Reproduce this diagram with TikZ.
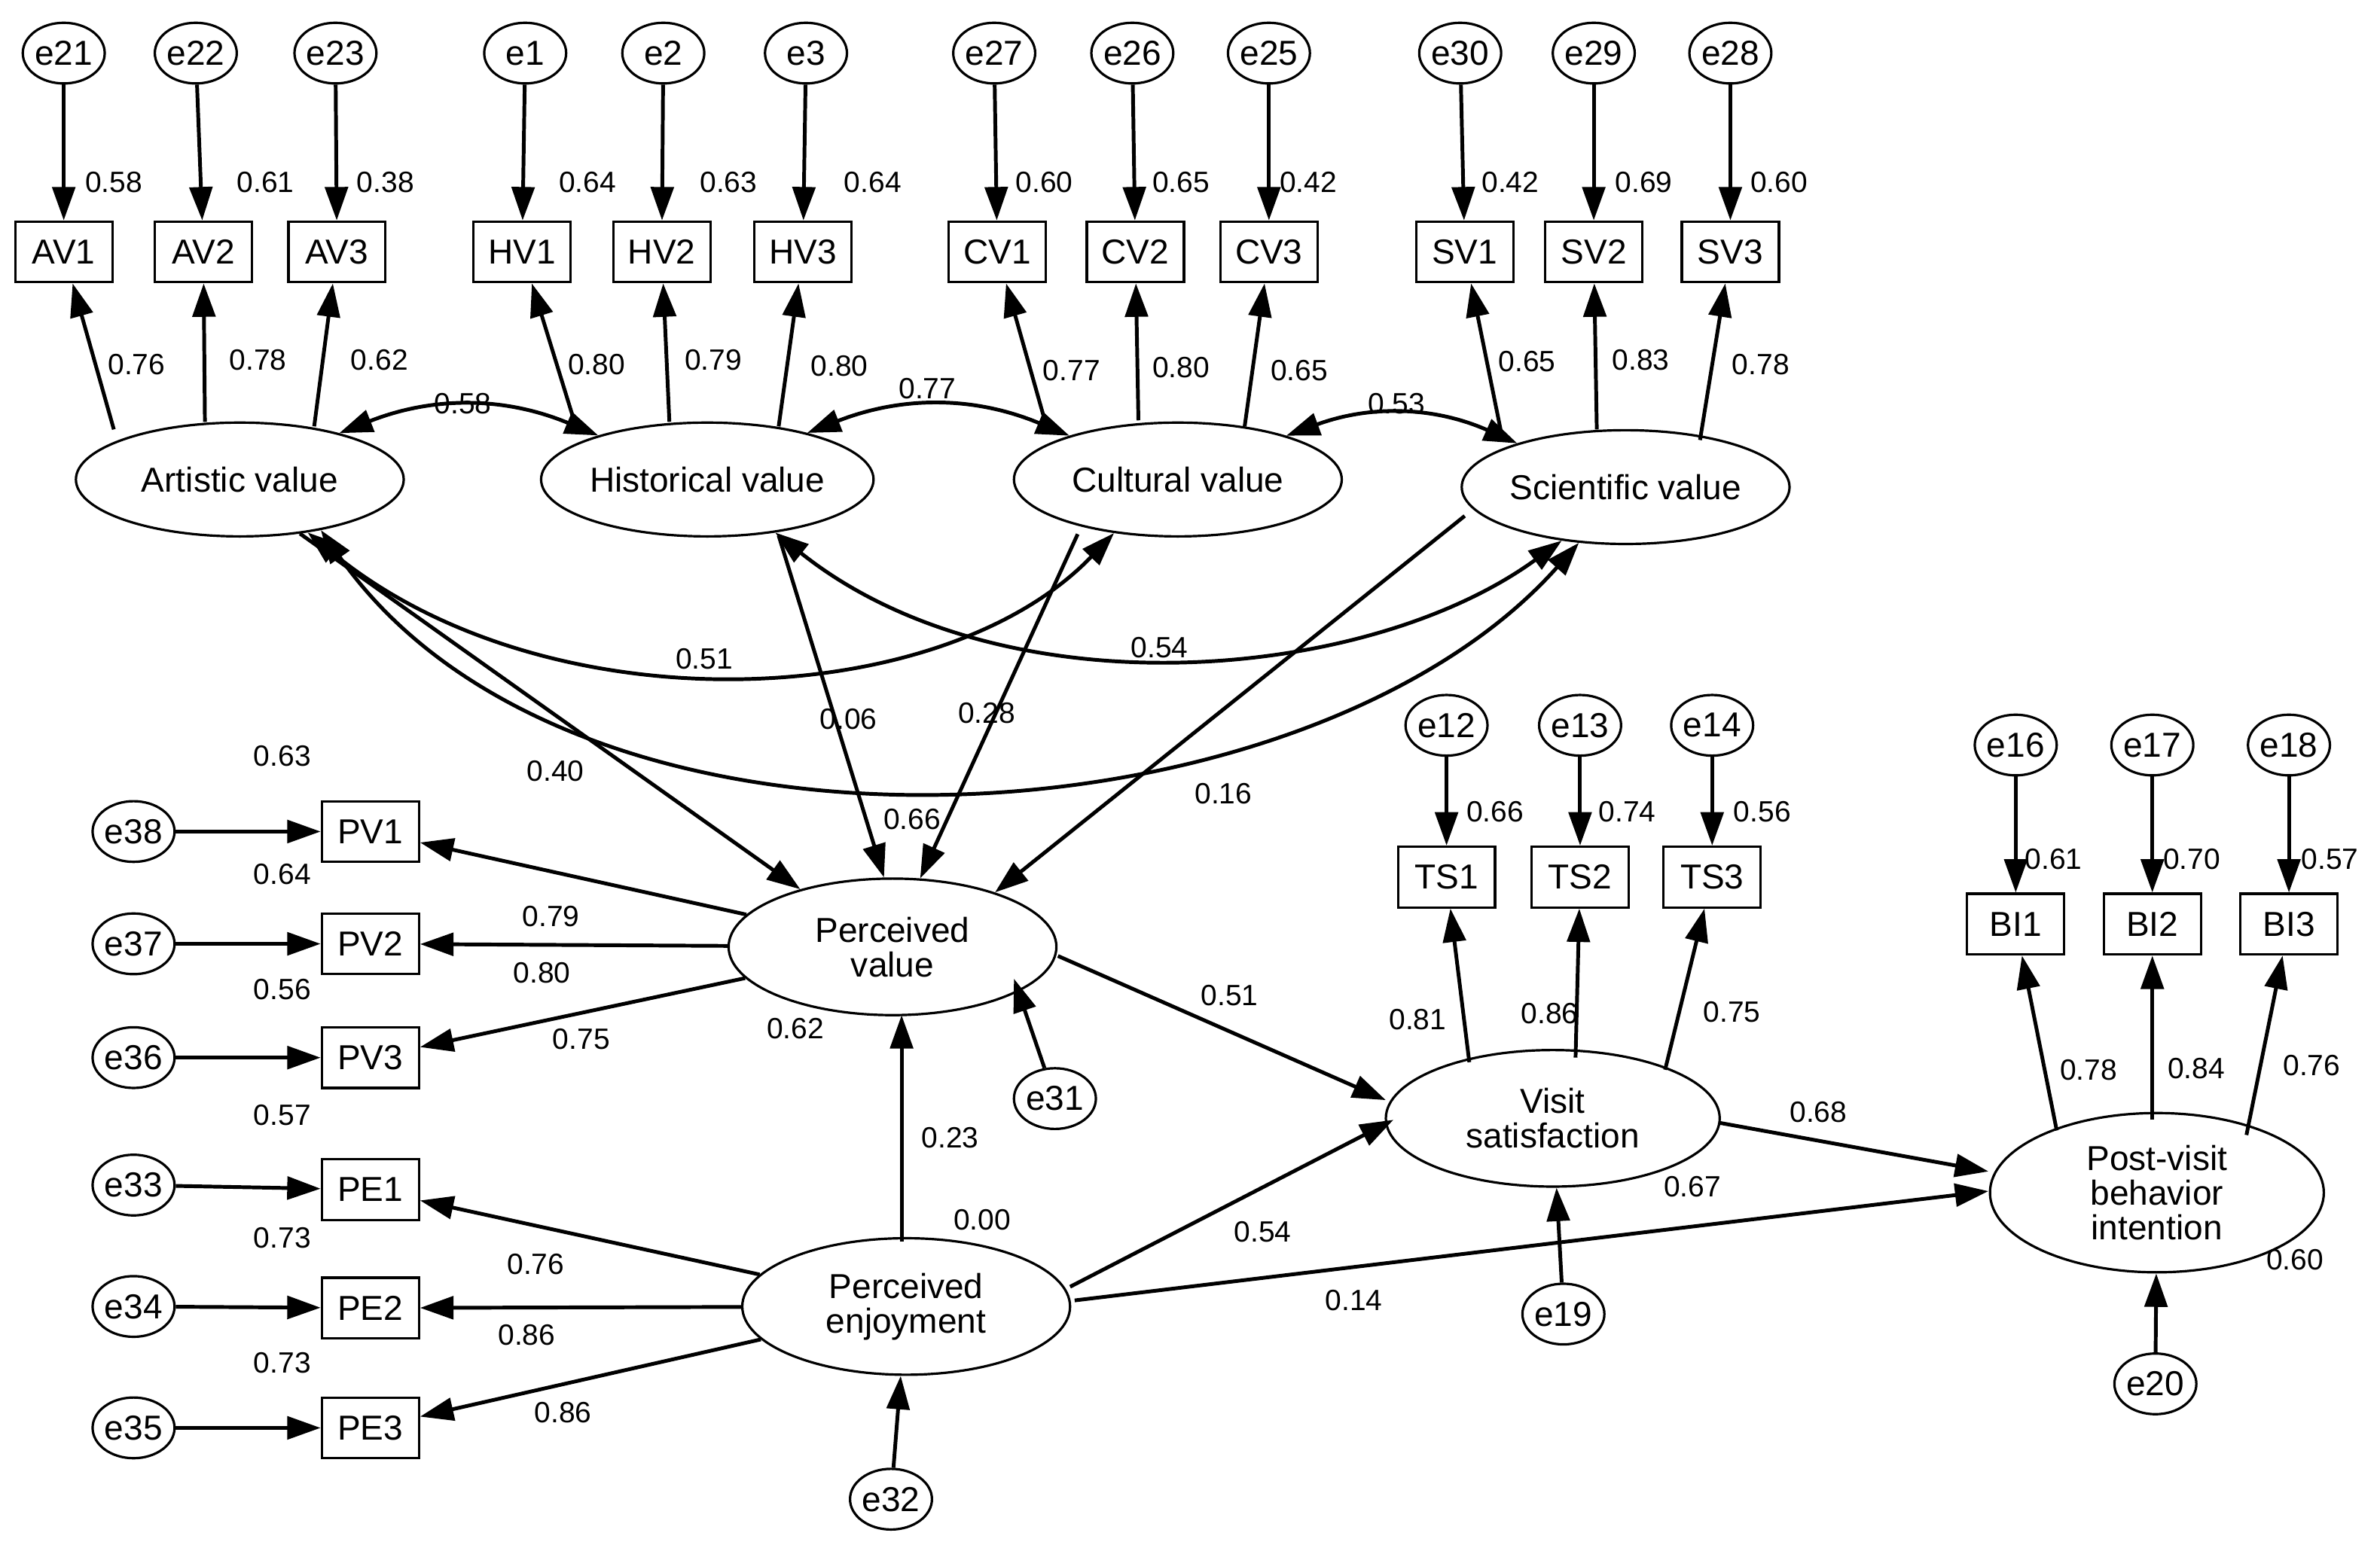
\documentclass[tikz,border=0pt]{standalone}
\usepackage{fontspec}
\setmainfont{Liberation Sans}
\usetikzlibrary{arrows.meta,shapes.geometric}
\begin{document}
\begin{tikzpicture}[x=0.02cm,y=-0.02cm,
 err/.style={draw,ellipse,minimum width=1.08cm,minimum height=0.8cm,inner sep=0pt,font=\fontsize{13}{14}\selectfont,line width=0.9pt},
 box/.style={draw,rectangle,minimum width=1.28cm,minimum height=0.8cm,inner sep=0pt,font=\fontsize{13}{14}\selectfont,line width=0.9pt},
 lat/.style={draw,ellipse,minimum width=4.32cm,minimum height=1.5cm,inner sep=0pt,align=center,font=\fontsize{13}{13}\selectfont,line width=0.9pt},
 lb/.style={font=\fontsize{11}{12}\selectfont,inner sep=1pt},
 ar/.style={-{Triangle[length=0.44cm,width=0.3cm]},line width=1.4pt},
 dar/.style={{Triangle[length=0.44cm,width=0.3cm]}-{Triangle[length=0.44cm,width=0.3cm]},line width=1.4pt}]
\useasboundingbox (0,0) rectangle (1568,1018);
% top errors and boxes
\foreach \n/\ex in {e21/42,e22/129,e23/221,e1/346,e2/437,e3/531,e27/655,e26/746,e25/836,e30/962,e29/1050,e28/1140}{
 \node[err] (\n) at (\ex,35) {\n};}
\foreach \b/\bx in {AV1/42,AV2/134,AV3/222,HV1/344,HV2/436,HV3/529,CV1/657,CV2/748,CV3/836,SV1/965,SV2/1050,SV3/1140}{
 \node[box] (\b) at (\bx,166) {\b};}
\foreach \e/\b in {e21/AV1,e22/AV2,e23/AV3,e1/HV1,e2/HV2,e3/HV3,e27/CV1,e26/CV2,e25/CV3,e30/SV1,e29/SV2,e28/SV3}{
 \draw[ar] (\e) -- (\b);}
\node[lat] (art) at (158,316) {Artistic value};
\node[lat] (hist) at (466,316) {Historical value};
\node[lat] (cult) at (776,316) {Cultural value};
\node[lat] (sci) at (1071,321) {Scientific value};
\foreach \c/\x/\y in {a1/75/283,a2/135/278,a3/207/281,h1/380/283,h2/441/278,h3/513/281,c1/690/283,c2/750/277,c3/820/281,s1/990/290,s2/1052/283,s3/1120/290}{
 \coordinate (\c) at (\x,\y);}
\draw[ar] (a1) -- (AV1); \draw[ar] (a2) -- (AV2); \draw[ar] (a3) -- (AV3);
\draw[ar] (h1) -- (HV1); \draw[ar] (h2) -- (HV2); \draw[ar] (h3) -- (HV3);
\draw[ar] (c1) -- (CV1); \draw[ar] (c2) -- (CV2); \draw[ar] (c3) -- (CV3);
\draw[ar] (s1) -- (SV1); \draw[ar] (s2) -- (SV2); \draw[ar] (s3) -- (SV3);
% covariances
\draw[dar] (art.25) to[bend left=22] (hist.158);
\draw[dar] (hist.25) to[bend left=22] (cult.158);
\draw[dar] (cult.22) to[bend left=22] (sci.158);
\draw[dar] (art.-38) .. controls (360,480) and (620,470) .. (cult.-140);
\draw[dar] (hist.-38) .. controls (660,470) and (900,450) .. (sci.-140);
\draw[dar] (art.-32) .. controls (380,590) and (860,560) .. (sci.-130);
% lower nodes
\node[lat,minimum height=1.8cm] (pv) at (588,624) {Perceived\\value};
\node[lat,minimum height=1.8cm] (pe) at (597,861) {Perceived\\enjoyment};
\node[lat,minimum width=4.4cm,minimum height=1.8cm] (vs) at (1023,737) {Visit\\satisfaction};
\node[lat,minimum width=4.4cm,minimum height=2.1cm] (bi) at (1421,786) {Post-visit\\behavior\\intention};
\coordinate (hs) at (513,353); \coordinate (cs) at (710,352); \coordinate (ss) at (965,340);
\draw[ar] (art.-42) -- (pv.148);
\draw[ar] (hs) -- (pv.97);
\draw[ar] (cs) -- (pv.68);
\draw[ar] (ss) -- (pv.28);
\foreach \b/\y in {PV1/548,PV2/622,PV3/697,PE1/784,PE2/862,PE3/941}{\node[box] (\b) at (244,\y) {\b};}
\foreach \e/\y/\b in {e38/548/PV1,e37/622/PV2,e36/697/PV3,e33/781/PE1,e34/861/PE2,e35/941/PE3}{
 \node[err] (\e) at (88,\y) {\e}; \draw[ar] (\e) -- (\b);}
\draw[ar] (pv) -- (PV1); \draw[ar] (pv) -- (PV2); \draw[ar] (pv) -- (PV3);
\draw[ar] (pe) -- (PE1); \draw[ar] (pe) -- (PE2); \draw[ar] (pe) -- (PE3);
\node[err] (e31) at (695,724) {e31}; \coordinate (e31t) at (668,645); \draw[ar] (e31) -- (e31t);
\node[err] (e32) at (587,988) {e32}; \draw[ar] (e32) -- (pe);
\node[err] (e19) at (1030,866) {e19}; \draw[ar] (e19) -- (vs);
\node[err] (e20) at (1420,912) {e20}; \draw[ar] (e20) -- (bi);
\coordinate (pet) at (594,818); \coordinate (pvb) at (594,669);
\draw[ar] (pet) -- (pvb);
\coordinate (pvr) at (697,630); \coordinate (vsl) at (913,725);
\draw[ar] (pvr) -- (vsl);
\coordinate (per) at (705,848); \coordinate (vsl2) at (918,738);
\draw[ar] (per) -- (vsl2);
\coordinate (per2) at (708,857); \coordinate (bil) at (1310,785);
\draw[ar] (per2) -- (bil);
\coordinate (vsr) at (1133,740); \coordinate (bil2) at (1310,772);
\draw[ar] (vsr) -- (bil2);
\foreach \b/\x/\e in {TS1/953/e12,TS2/1041/e13,TS3/1128/e14}{
 \node[box] (\b) at (\x,578) {\b}; \node[err] (\e) at (\x,478) {\e}; \draw[ar] (\e) -- (\b);}
\coordinate (t1) at (968,700); \coordinate (t2) at (1038,697); \coordinate (t3) at (1097,705);
\draw[ar] (t1) -- (TS1); \draw[ar] (t2) -- (TS2); \draw[ar] (t3) -- (TS3);
\foreach \b/\x/\e in {BI1/1328/e16,BI2/1418/e17,BI3/1508/e18}{
 \node[box] (\b) at (\x,609) {\b}; \node[err] (\e) at (\x,491) {\e}; \draw[ar] (\e) -- (\b);}
\coordinate (b1) at (1355,745); \coordinate (b2) at (1418,738); \coordinate (b3) at (1480,748);
\draw[ar] (b1) -- (BI1); \draw[ar] (b2) -- (BI2); \draw[ar] (b3) -- (BI3);
% labels
\foreach \t/\x/\y in {0.58/75/120,0.61/175/120,0.38/254/120,0.64/387/120,0.63/480/120,0.64/575/120,0.60/688/120,0.65/778/120,0.42/862/120,0.42/995/120,0.69/1083/120,0.60/1172/120,
0.76/90/240,0.78/170/237,0.62/250/237,0.80/393/240,0.79/470/237,0.80/553/241,0.77/706/244,0.80/778/242,0.65/856/244,0.65/1006/238,0.83/1081/237,0.78/1160/240,
0.58/305/266,0.77/611/256,0.53/920/266,0.51/464/434,0.54/764/427,0.66/601/540,
0.40/366/508,0.06/559/474,0.28/650/470,0.16/806/523,
0.63/186/498,0.64/186/576,0.79/363/604,0.56/186/652,0.80/357/641,0.75/383/685,0.57/186/735,0.62/524/678,
0.23/626/750,0.00/647/804,0.54/832/812,0.14/892/857,0.73/186/816,0.76/353/833,0.86/347/880,0.73/186/898,0.86/371/931,
0.51/810/656,0.81/934/672,0.86/1021/668,0.75/1141/667,0.66/985/535,0.74/1072/535,0.56/1161/535,
0.68/1198/733,0.67/1115/782,0.60/1512/830,0.78/1376/705,0.84/1447/704,0.76/1523/702,0.61/1353/566,0.70/1444/566,0.57/1535/566}{
 \node[lb] at (\x,\y) {\t};}
\end{tikzpicture}
\end{document}
